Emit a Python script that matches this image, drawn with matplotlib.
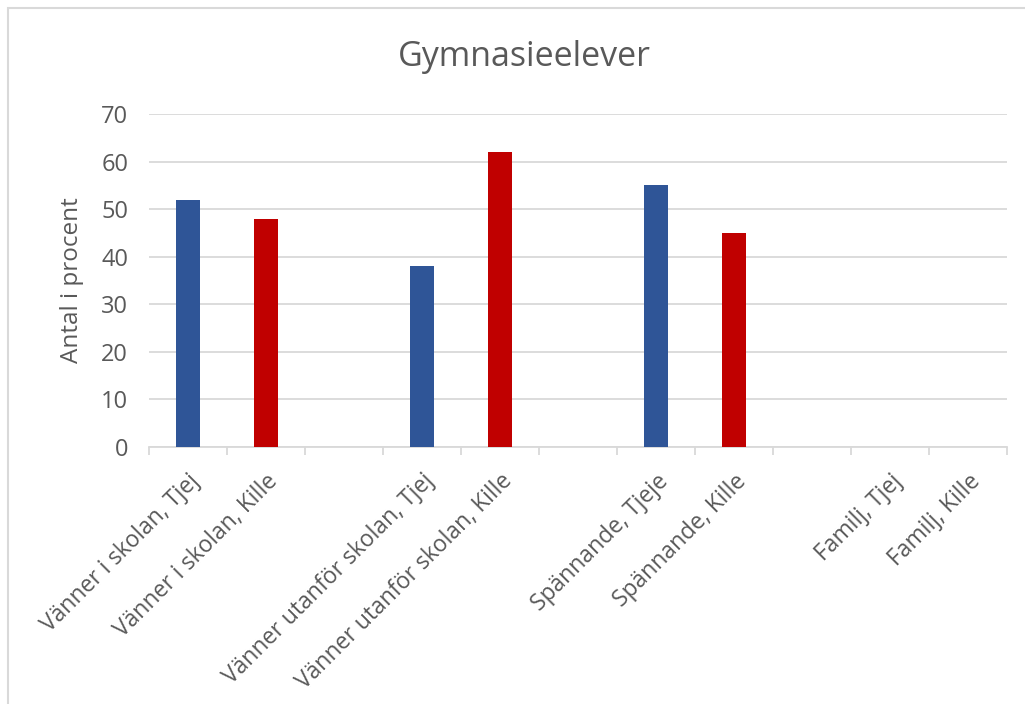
import matplotlib
matplotlib.use("Agg")
import matplotlib.pyplot as plt
from matplotlib.patches import Rectangle
import numpy as np

categories = ["Vänner i skolan, Tjej", "Vänner i skolan, Kille", "",
              "Vänner utanför skolan, Tjej", "Vänner utanför skolan, Kille", "",
              "Spännande, Tjeje", "Spännande, Kille", "",
              "Familj, Tjej", "Familj, Kille"]
values = [52, 48, 0, 38, 62, 0, 55, 45, 0, 0, 0]
colors_by_cat = ["#2F5597", "#C00000", "none",
                 "#2F5597", "#C00000", "none",
                 "#2F5597", "#C00000", "none",
                 "#2F5597", "#C00000"]
yticks = [0, 10, 20, 30, 40, 50, 60, 70]

plt.rcParams['font.family'] = ['Open Sans', 'DejaVu Sans']
txt = "#595959"

fig = plt.figure(figsize=(10.25, 7.04), dpi=100)
fig.patches.append(Rectangle((8/1025, -0.1), 1.2, 1 - 8/704 + 0.1, transform=fig.transFigure,
                             fill=False, edgecolor="#D9D9D9", linewidth=1.5))
ax = fig.add_axes([149/1025, 1 - 447/704, (1007 - 149)/1025, (447 - 114)/704])

x = np.arange(len(categories))
ax.bar(x, values, width=0.32, color=colors_by_cat, zorder=3)

ax.set_xlim(-0.5, len(categories) - 0.5)
ax.set_ylim(0, 70)
ax.set_yticks(yticks)
ax.yaxis.grid(True, color="#D9D9D9", linewidth=1.3, zorder=0)
ax.tick_params(axis='y', length=0, labelsize=17, labelcolor=txt, pad=15)

ax.set_xticks(x)
ax.set_xticklabels(categories, rotation=45, ha='right', rotation_mode='anchor',
                   fontsize=16.5, color=txt)
ax.tick_params(axis='x', which='major', length=0, pad=16)
ax.set_xticks(np.arange(-0.5, len(categories), 1.0), minor=True)
ax.tick_params(axis='x', which='minor', length=6, color="#D9D9D9", width=1.3)

for s in ['top', 'right', 'left']:
    ax.spines[s].set_visible(False)
ax.spines['bottom'].set_color("#D9D9D9")
ax.spines['bottom'].set_linewidth(1.3)

ax.set_ylabel("Antal i procent", fontsize=17.5, color=txt, labelpad=12)
fig.text(524/1025, 1 - 57/704, "Gymnasieelever", ha='center', va='center',
         fontsize=24.5, color=txt)

fig.savefig("out.png", dpi=100)
